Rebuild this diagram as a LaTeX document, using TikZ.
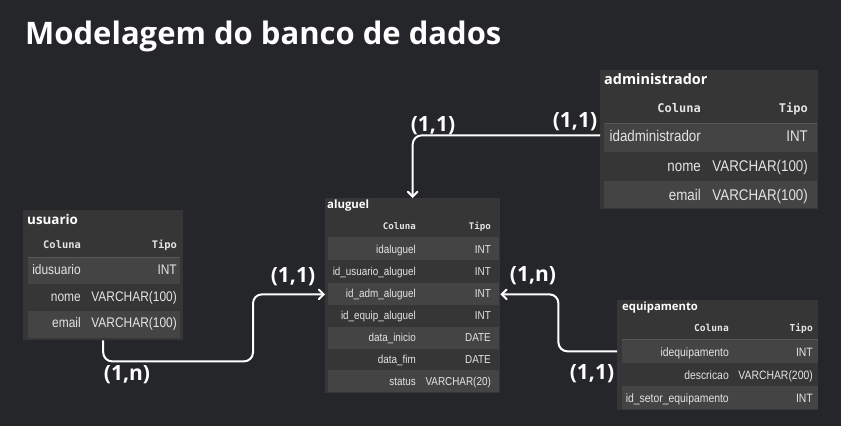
\documentclass[tikz,border=0pt]{standalone}
\usepackage{fontspec}
\setmainfont{Open Sans}
\newfontfamily\cellfont[FakeStretch=0.86]{Liberation Sans}
\newfontfamily\hdfont{DejaVu Sans Mono}
\usetikzlibrary{arrows}
\definecolor{fundo}{HTML}{25262A}
\definecolor{tabbg}{HTML}{363636}
\definecolor{rowbg}{HTML}{444444}
\definecolor{linhacab}{HTML}{585858}
\definecolor{celtxt}{HTML}{E4E4E4}

\begin{document}
\begin{tikzpicture}[x=1pt,y=-1pt]
\tikzstyle{tabela} = [fill=tabbg,inner sep=0pt,anchor=north west]
\tikzstyle{faixa} = [fill=rowbg,inner sep=0pt,anchor=north west]
\tikzstyle{titulo} = [text=white,inner sep=0pt,anchor=base west,font=\bfseries]
\tikzstyle{cab} = [text=celtxt,inner sep=0pt,anchor=base east]
\tikzstyle{campo} = [text=celtxt,inner sep=0pt,anchor=base east]
\tikzstyle{card} = [text=white,inner sep=0pt,font=\bfseries\fontsize{21}{21}\selectfont]
\tikzstyle{rel} = [draw=white,line width=2pt,rounded corners=9pt,-angle 90]

\fill[fundo] (0,0) rectangle (841,426);
\useasboundingbox (0,0) rectangle (841,426);

\node[titulo,font=\bfseries\fontsize{31}{31}\selectfont] (titulo) at (25,44) {Modelagem do banco de dados};

% administrador
\begin{scope}[campo/.append style={font=\cellfont\fontsize{15.5}{16}\selectfont},
              cab/.append style={font=\hdfont\bfseries\fontsize{12}{12}\selectfont}]
\node[tabela,minimum width=218,minimum height=139] (admin) at (600,70) {};
\node[faixa,minimum width=213,minimum height=29] (admf1) at (604,123) {};
\node[faixa,minimum width=213,minimum height=27] (admf3) at (604,181) {};
\draw[linhacab] (604,123) -- (817,123);
\node[titulo,font=\bfseries\fontsize{14.4}{15}\selectfont] (admtit) at (604,84) {administrador};
\node[cab] (admcol) at (701,112) {Coluna};
\node[cab] (admtip) at (808,112) {Tipo};
\node[campo] (idadm) at (701,141) {idadministrador};
\node[campo] (idadmt) at (808,141) {INT};
\node[campo] (admnome) at (701,171) {nome};
\node[campo] (admnomet) at (808,171) {VARCHAR(100)};
\node[campo] (admemail) at (701,200) {email};
\node[campo] (admemailt) at (808,200) {VARCHAR(100)};
\end{scope}

% usuario
\begin{scope}[campo/.append style={font=\cellfont\fontsize{13.9}{14}\selectfont},
              cab/.append style={font=\hdfont\bfseries\fontsize{10.4}{11}\selectfont}]
\node[tabela,minimum width=160,minimum height=130] (usuario) at (23,210) {};
\node[faixa,minimum width=152,minimum height=27] (usuf1) at (28,257) {};
\node[faixa,minimum width=152,minimum height=27] (usuf3) at (28,311) {};
\draw[linhacab] (28,257) -- (180,257);
\node[titulo,font=\bfseries\fontsize{13.4}{14}\selectfont] (usutit) at (27,224) {usuario};
\node[cab] (usucol) at (81,248) {Coluna};
\node[cab] (usutip) at (177,248) {Tipo};
\node[campo] (idusu) at (81,274) {idusuario};
\node[campo] (idusut) at (177,274) {INT};
\node[campo] (usunome) at (81,301) {nome};
\node[campo] (usunomet) at (177,301) {VARCHAR(100)};
\node[campo] (usuemail) at (81,327) {email};
\node[campo] (usuemailt) at (177,327) {VARCHAR(100)};
\end{scope}

% aluguel
\begin{scope}[campo/.append style={font=\cellfont\fontsize{11.5}{12}\selectfont},
              cab/.append style={font=\hdfont\bfseries\fontsize{9.1}{10}\selectfont}]
\node[tabela,minimum width=175,minimum height=195] (aluguel) at (325,198) {};
\node[faixa,minimum width=171,minimum height=23] (alf1) at (328,237) {};
\node[faixa,minimum width=171,minimum height=22] (alf3) at (328,283) {};
\node[faixa,minimum width=171,minimum height=22] (alf5) at (328,327) {};
\node[faixa,minimum width=171,minimum height=22] (alf7) at (328,370) {};
\node[titulo,font=\bfseries\fontsize{11.4}{12}\selectfont] (altit) at (327,208) {aluguel};
\node[cab] (alcol) at (416,229) {Coluna};
\node[cab] (altip) at (491,229) {Tipo};
\node[campo] (idal) at (416,253) {idaluguel};
\node[campo] (idalt) at (491,253) {INT};
\node[campo] (idusual) at (416,275) {id\_usuario\_aluguel};
\node[campo] (idusualt) at (491,275) {INT};
\node[campo] (idadmal) at (416,297) {id\_adm\_aluguel};
\node[campo] (idadmalt) at (491,297) {INT};
\node[campo] (ideqal) at (416,319) {id\_equip\_aluguel};
\node[campo] (ideqalt) at (491,319) {INT};
\node[campo] (dtini) at (416,341) {data\_inicio};
\node[campo] (dtinit) at (491,341) {DATE};
\node[campo] (dtfim) at (416,363) {data\_fim};
\node[campo] (dtfimt) at (491,363) {DATE};
\node[campo] (status) at (416,385) {status};
\node[campo] (statust) at (491,385) {VARCHAR(20)};
\end{scope}

% equipamento
\begin{scope}[campo/.append style={font=\cellfont\fontsize{12.1}{13}\selectfont},
              cab/.append style={font=\hdfont\bfseries\fontsize{9.6}{10}\selectfont}]
\node[tabela,minimum width=201,minimum height=110] (equip) at (617,300) {};
\node[faixa,minimum width=196,minimum height=23] (eqf1) at (622,340) {};
\node[faixa,minimum width=196,minimum height=23] (eqf3) at (622,386) {};
\draw[linhacab] (622,339) -- (818,339);
\node[titulo,font=\bfseries\fontsize{11.3}{12}\selectfont] (eqtit) at (622,310) {equipamento};
\node[cab] (eqcol) at (729,331) {Coluna};
\node[cab] (eqtip) at (813,331) {Tipo};
\node[campo] (ideq) at (729,356) {idequipamento};
\node[campo] (ideqt) at (813,356) {INT};
\node[campo] (eqdesc) at (729,379) {descricao};
\node[campo] (eqdesct) at (813,379) {VARCHAR(200)};
\node[campo] (eqsetor) at (729,402) {id\_setor\_equipamento};
\node[campo] (eqsetort) at (813,402) {INT};
\end{scope}

% relacionamentos
\draw[rel] ([yshift=3]admin.west |- idadmt.mid) -| (aluguel.north);
\draw[rel] (usuario.south) -- ++(0,21) -| ([xshift=-72]aluguel.west |- idadmal.mid) -- (aluguel.west |- idadmal.mid);
\draw[rel] ([yshift=2]equip.west |- ideqt.mid) -| ([xshift=58]aluguel.east |- idadmal.mid) -- (aluguel.east |- idadmal.mid);

\node[card] (c1) at (433,126) {(1,1)};
\node[card] (c2) at (575,122) {(1,1)};
\node[card] (c3) at (293,277) {(1,1)};
\node[card] (c4) at (127,375) {(1,n)};
\node[card] (c5) at (533,276) {(1,n)};
\node[card] (c6) at (592,374) {(1,1)};

\end{tikzpicture}
\end{document}
